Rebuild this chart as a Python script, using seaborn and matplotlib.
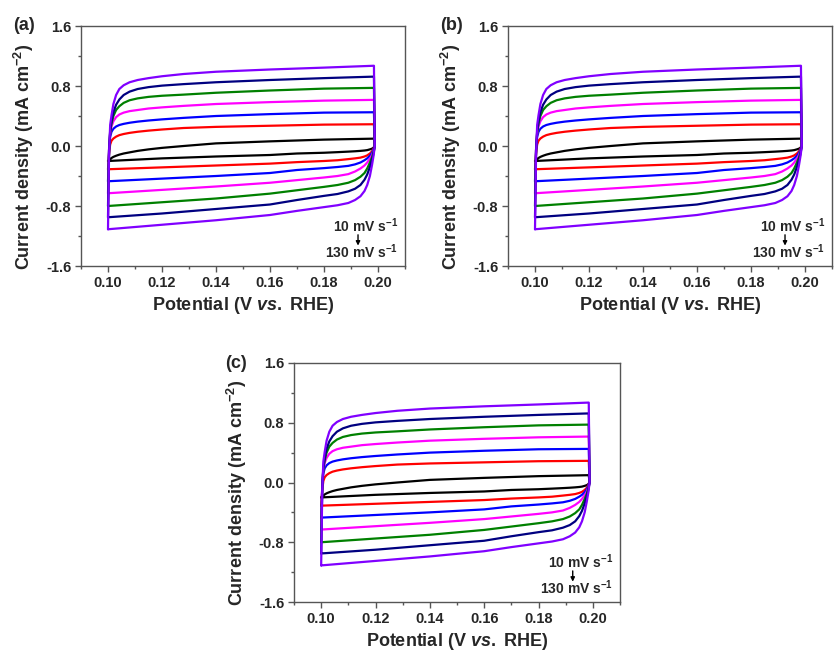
import numpy as np
import pandas as pd
import matplotlib
matplotlib.use("Agg")
import matplotlib.pyplot as plt
from matplotlib.ticker import MultipleLocator, FormatStrFormatter
import seaborn as sns

# Scan rates (mV s-1) and the colour used for each cyclic voltammogram
scan_rates = [10, 30, 50, 70, 90, 110, 130]
curve_colors = ["#000000", "#ff0000", "#0000ff", "#ff00ff", "#008000", "#000080", "#8000ff"]

# Anodic sweep potentials (V vs. RHE), left to right
anodic_potential = [0.1000, 0.1004, 0.1008, 0.1013, 0.1020, 0.1030, 0.1042, 0.1058, 0.1080,
                    0.1110, 0.1150, 0.1200, 0.1280, 0.1400, 0.1600, 0.1800, 0.1985]
# Cathodic sweep potentials (V vs. RHE), right to left
cathodic_potential = [0.1988, 0.1984, 0.1978, 0.1970, 0.1960, 0.1950, 0.1935, 0.1915, 0.1890,
                      0.1850, 0.1800, 0.1700, 0.1600, 0.1400, 0.1200, 0.1000]

# Current density (mA cm-2) on the anodic sweep
j_anodic_10 = [-0.20, -0.19, -0.175, -0.16, -0.145, -0.13, -0.115, -0.10, -0.085,
               -0.065, -0.045, -0.025, 0.00, 0.035, 0.062, 0.085, 0.098]
j_anodic_30 = [-0.31, -0.10, 0.02, 0.07, 0.10, 0.125, 0.145, 0.16, 0.175,
               0.19, 0.205, 0.22, 0.24, 0.255, 0.27, 0.285, 0.29]
j_anodic_50 = [-0.47, -0.05, 0.12, 0.19, 0.23, 0.26, 0.28, 0.295, 0.31,
               0.325, 0.34, 0.355, 0.375, 0.40, 0.425, 0.445, 0.45]
j_anodic_70 = [-0.63, -0.02, 0.16, 0.26, 0.33, 0.385, 0.42, 0.445, 0.465,
               0.48, 0.50, 0.515, 0.535, 0.56, 0.585, 0.605, 0.615]
j_anodic_90 = [-0.80, -0.05, 0.18, 0.30, 0.40, 0.48, 0.53, 0.575, 0.61,
               0.635, 0.655, 0.67, 0.685, 0.71, 0.74, 0.765, 0.775]
j_anodic_110 = [-0.95, -0.05, 0.20, 0.33, 0.45, 0.55, 0.62, 0.68, 0.725,
                0.76, 0.785, 0.805, 0.825, 0.85, 0.88, 0.905, 0.925]
j_anodic_130 = [-1.11, -0.10, 0.28, 0.41, 0.56, 0.68, 0.76, 0.81, 0.85,
                0.88, 0.905, 0.93, 0.96, 0.99, 1.02, 1.045, 1.07]

# Current density (mA cm-2) on the cathodic sweep
j_cathodic_10 = [0.00, -0.02, -0.035, -0.045, -0.055, -0.06, -0.065, -0.07, -0.075,
                 -0.082, -0.09, -0.10, -0.12, -0.14, -0.165, -0.20]
j_cathodic_30 = [0.02, -0.03, -0.07, -0.10, -0.125, -0.14, -0.155, -0.165, -0.175,
                 -0.19, -0.20, -0.215, -0.235, -0.26, -0.285, -0.31]
j_cathodic_50 = [0.02, -0.04, -0.09, -0.13, -0.165, -0.19, -0.22, -0.245, -0.265,
                 -0.28, -0.295, -0.32, -0.36, -0.40, -0.435, -0.47]
j_cathodic_70 = [0.00, -0.06, -0.12, -0.17, -0.22, -0.26, -0.30, -0.34, -0.375,
                 -0.40, -0.42, -0.455, -0.49, -0.54, -0.585, -0.63]
j_cathodic_90 = [0.00, -0.07, -0.15, -0.22, -0.30, -0.36, -0.41, -0.455, -0.49,
                 -0.52, -0.545, -0.59, -0.635, -0.70, -0.75, -0.80]
j_cathodic_110 = [0.00, -0.09, -0.18, -0.28, -0.38, -0.45, -0.52, -0.57, -0.605,
                  -0.64, -0.665, -0.72, -0.78, -0.84, -0.90, -0.95]
j_cathodic_130 = [0.00, -0.12, -0.25, -0.40, -0.52, -0.60, -0.67, -0.72, -0.76,
                  -0.79, -0.815, -0.865, -0.92, -0.99, -1.05, -1.11]

anodic_sets = [j_anodic_10, j_anodic_30, j_anodic_50, j_anodic_70, j_anodic_90, j_anodic_110, j_anodic_130]
cathodic_sets = [j_cathodic_10, j_cathodic_30, j_cathodic_50, j_cathodic_70, j_cathodic_90, j_cathodic_110, j_cathodic_130]

panel_labels = ["(a)", "(b)", "(c)"]

# Build one long table of closed CV loops
rows = []
for rate, up, down in zip(scan_rates, anodic_sets, cathodic_sets):
    pot = list(anodic_potential) + list(cathodic_potential)
    cur = list(up) + list(down)
    for k, (e, j) in enumerate(zip(pot, cur)):
        rows.append({"rate": rate, "step": k, "E": e, "j": j})
cv = pd.DataFrame(rows)

sns.set_style("white")
plt.rcParams["font.family"] = ["Liberation Sans", "DejaVu Sans"]
plt.rcParams["font.weight"] = "bold"
plt.rcParams["axes.labelweight"] = "bold"
plt.rcParams["mathtext.fontset"] = "custom"
plt.rcParams["mathtext.rm"] = "Liberation Sans:bold"
plt.rcParams["mathtext.bf"] = "Liberation Sans:bold"
plt.rcParams["mathtext.it"] = "Liberation Sans:bold:italic"
plt.rcParams["mathtext.default"] = "rm"

W, H = 834, 655
fig = plt.figure(figsize=(W / 100, H / 100), dpi=100)

# axes boxes in pixels: left, top, right, bottom
boxes = [(81, 26, 405, 266), (508, 26, 832, 266), (294, 363, 620, 602)]
frame_color = "#555555"

for label, (l, t, r, b) in zip(panel_labels, boxes):
    ax = fig.add_axes([l / W, 1 - b / H, (r - l) / W, (b - t) / H])
    sns.lineplot(data=cv, x="E", y="j", hue="rate", palette=curve_colors,
                 sort=False, estimator=None, units="rate", legend=False,
                 linewidth=1.6, ax=ax)
    for ln in ax.get_lines():
        ln.set_solid_joinstyle("round")
    ax.set_xlim(0.09, 0.21)
    ax.set_ylim(-1.6, 1.6)
    ax.xaxis.set_minor_locator(MultipleLocator(0.01))
    ax.yaxis.set_major_locator(MultipleLocator(0.8))
    ax.yaxis.set_minor_locator(MultipleLocator(0.4))
    ax.xaxis.set_major_formatter(FormatStrFormatter("%.2f"))
    ax.yaxis.set_major_formatter(FormatStrFormatter("%.1f"))
    ax.set_xticks([0.10, 0.12, 0.14, 0.16, 0.18, 0.20])
    ax.tick_params(which="both", direction="out", bottom=True, left=True,
                   top=False, right=False, color=frame_color, width=1.0)
    ax.tick_params(which="major", length=4, labelsize=10.5, pad=3)
    ax.tick_params(which="minor", length=2.5)
    for lab in ax.get_xticklabels() + ax.get_yticklabels():
        lab.set_fontweight("bold")
    for sp in ax.spines.values():
        sp.set_color(frame_color)
        sp.set_linewidth(1.0)
    ax.set_xlabel(r"Potential (V $\mathit{vs.}$ RHE)", fontsize=13, fontweight="bold", labelpad=4)
    ax.set_ylabel(r"Current density (mA cm$^{-2}$)", fontsize=13, fontweight="bold")
    ax.yaxis.set_label_coords(-0.139, 0.455)

    ax.text(0.98, 0.167, r"10 mV s$^{-1}$", transform=ax.transAxes, ha="right", va="center",
            fontsize=10, fontweight="bold")
    ax.text(0.98, 0.06, r"130 mV s$^{-1}$", transform=ax.transAxes, ha="right", va="center",
            fontsize=10, fontweight="bold")
    ax.annotate("", xy=(0.855, 0.085), xytext=(0.855, 0.13), xycoords="axes fraction",
                arrowprops=dict(arrowstyle="-|>", color="black", lw=1.0,
                                mutation_scale=6, shrinkA=0, shrinkB=0))
    ax.text(-0.21, 1.0, label, transform=ax.transAxes, ha="left", va="center",
            fontsize=13, fontweight="bold")

fig.savefig("out.png", dpi=100)
